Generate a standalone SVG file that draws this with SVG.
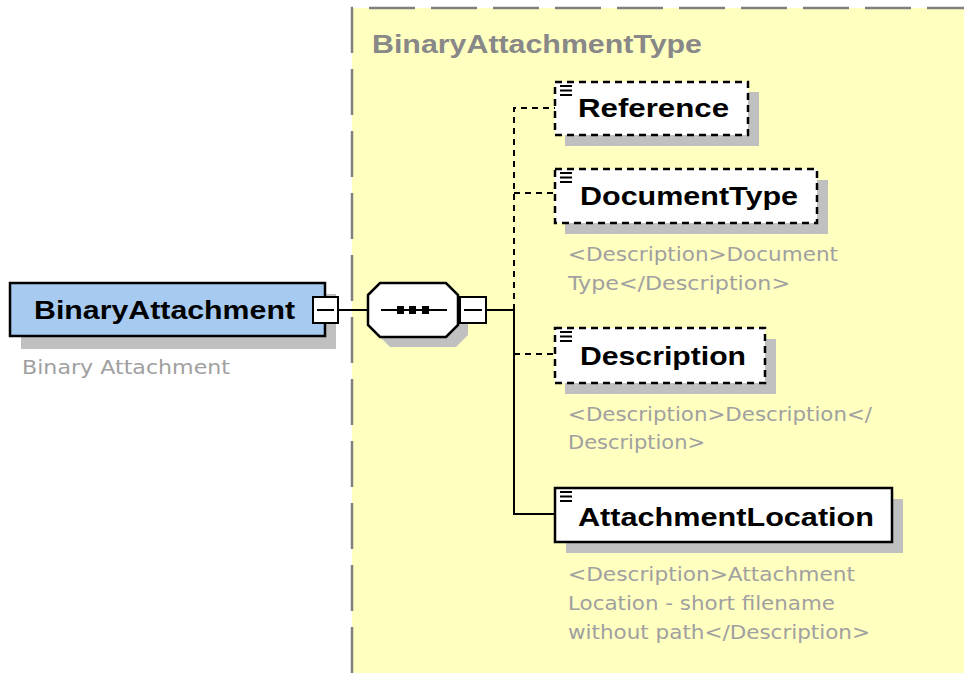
<svg xmlns="http://www.w3.org/2000/svg" width="964" height="676" viewBox="0 0 964 676">
<defs>
<style>
.shadow{fill:#c0c0c0;stroke:none}
.elem{fill:#ffffff;stroke:#000;stroke-width:2.5}
.opt{stroke-dasharray:7 5}
.name{font-family:"Liberation Sans",Arial,sans-serif;font-weight:bold;font-size:26px;fill:#000}
.desc{font-family:"DejaVu Sans","Liberation Sans",sans-serif;font-size:19px;fill:#a0a0a0}
.icon{stroke:#000;stroke-width:2}
.conn{fill:none;stroke:#000;stroke-width:2}
.conn-opt{fill:none;stroke:#000;stroke-width:2;stroke-dasharray:6 5}
.exp{fill:#fff;stroke:#000;stroke-width:2}
</style>
</defs>
<rect width="964" height="676" fill="#ffffff"/>
<g id="complexType">
<rect x="352" y="8" width="620" height="665" fill="#ffffc0"/>
<path d="M352 673 V8 H970" fill="none" stroke="#808080" stroke-width="2.5" stroke-dasharray="46 16"/>
<text x="372" y="53" font-family="Liberation Sans,Arial,sans-serif" font-weight="bold" font-size="25px" fill="#888888" textLength="330" lengthAdjust="spacingAndGlyphs">BinaryAttachmentType</text>
</g>
<g id="connectors">
<line class="conn" x1="338" y1="310" x2="368" y2="310"/>
<line class="conn" x1="486" y1="310" x2="514" y2="310"/>
<path class="conn-opt" d="M514 310 V108 H555"/>
<path class="conn-opt" d="M514 193 H555"/>
<path class="conn-opt" d="M514 354 H555"/>
<path class="conn" d="M514 310 V514 H555"/>
</g>
<g id="BinaryAttachment">
<rect class="shadow" x="21" y="294" width="315" height="55"/>
<rect x="10" y="283" width="315" height="53" fill="#a6caf0" stroke="#000" stroke-width="2.5"/>
<text class="name" x="34" y="319" textLength="261" lengthAdjust="spacingAndGlyphs">BinaryAttachment</text>
<rect class="exp" x="313" y="297" width="25" height="26"/>
<line x1="317" y1="310" x2="334" y2="310" stroke="#000" stroke-width="2"/>
<text class="desc" x="22" y="374" textLength="208" lengthAdjust="spacingAndGlyphs">Binary Attachment</text>
</g>
<g id="sequence">
<polygon class="shadow" points="378,305 390,293 456,293 468,305 468,335 456,347 390,347 378,335"/>
<polygon points="368,295 380,283 446,283 458,295 458,325 446,337 380,337 368,325" fill="#fff" stroke="#000" stroke-width="2.5"/>
<line x1="381" y1="310" x2="447" y2="310" stroke="#000" stroke-width="2"/>
<rect x="397" y="306" width="7" height="8" fill="#000"/>
<rect x="409" y="306" width="7" height="8" fill="#000"/>
<rect x="422" y="306" width="7" height="8" fill="#000"/>
<rect class="exp" x="460" y="297" width="26" height="26"/>
<line x1="464" y1="310" x2="482" y2="310" stroke="#000" stroke-width="2"/>
</g>
<g id="Reference">
<rect class="shadow" x="565" y="92" width="194" height="54"/>
<rect class="elem opt" x="555" y="82" width="193" height="53"/>
<path class="icon" d="M560 86 H572 M560 90.5 H572 M560 95 H572"/>
<text class="name" x="578" y="117" textLength="151" lengthAdjust="spacingAndGlyphs">Reference</text>
</g>
<g id="DocumentType">
<rect class="shadow" x="565" y="180" width="263" height="54"/>
<rect class="elem opt" x="555" y="169" width="262" height="54"/>
<path class="icon" d="M560 173 H572 M560 177.5 H572 M560 182 H572"/>
<text class="name" x="580" y="205" textLength="218" lengthAdjust="spacingAndGlyphs">DocumentType</text>
<text class="desc" x="568" y="261" textLength="270" lengthAdjust="spacingAndGlyphs">&lt;Description&gt;Document</text>
<text class="desc" x="568" y="290" textLength="222" lengthAdjust="spacingAndGlyphs">Type&lt;/Description&gt;</text>
</g>
<g id="Description">
<rect class="shadow" x="565" y="339" width="211" height="55"/>
<rect class="elem opt" x="555" y="328" width="210" height="55"/>
<path class="icon" d="M560 332 H572 M560 336.5 H572 M560 341 H572"/>
<text class="name" x="580" y="365" textLength="166" lengthAdjust="spacingAndGlyphs">Description</text>
<text class="desc" x="568" y="421" textLength="304" lengthAdjust="spacingAndGlyphs">&lt;Description&gt;Description&lt;/</text>
<text class="desc" x="568" y="449" textLength="137" lengthAdjust="spacingAndGlyphs">Description&gt;</text>
</g>
<g id="AttachmentLocation">
<rect class="shadow" x="566" y="499" width="337" height="54"/>
<rect class="elem" x="555" y="488" width="337" height="54"/>
<path class="icon" d="M560 492 H572 M560 496.5 H572 M560 501 H572"/>
<text class="name" x="578" y="526" textLength="296" lengthAdjust="spacingAndGlyphs">AttachmentLocation</text>
<text class="desc" x="568" y="581" textLength="287" lengthAdjust="spacingAndGlyphs">&lt;Description&gt;Attachment</text>
<text class="desc" x="568" y="610" textLength="267" lengthAdjust="spacingAndGlyphs">Location - short filename</text>
<text class="desc" x="568" y="639" textLength="302" lengthAdjust="spacingAndGlyphs">without path&lt;/Description&gt;</text>
</g>
</svg>
